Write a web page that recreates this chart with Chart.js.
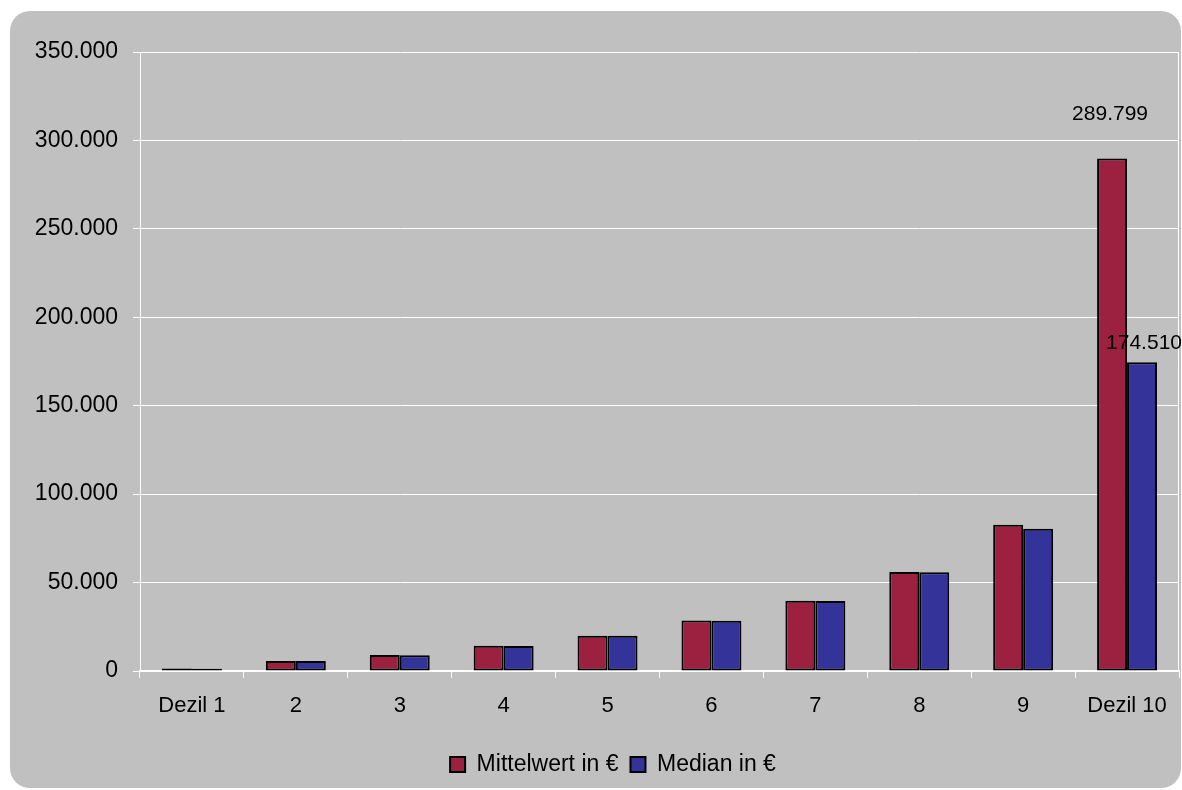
<!DOCTYPE html>
<html>
<head>
<meta charset="utf-8">
<script src="https://cdn.jsdelivr.net/npm/chart.js@4/dist/chart.umd.min.js"></script>
<style>
  html, body { margin: 0; padding: 0; background: #ffffff; }
  #frame {
    position: absolute; left: 10px; top: 11px;
    width: 1171px; height: 777px;
    background: #c0c0c0; border-radius: 20px;
  }
  #c { position: absolute; left: 0; top: 0; }
</style>
</head>
<body>
<div id="frame"></div>
<canvas id="c" width="1182" height="790"></canvas>
<script>
// Income deciles: mean and median per decile (EUR)
const categories = ['Dezil 1', '2', '3', '4', '5', '6', '7', '8', '9', 'Dezil 10'];
const mittelwert = [1400, 5700, 9000, 14300, 20000, 28500, 39700, 56000, 82700, 289799];
const median     = [1300, 5600, 8900, 14200, 19900, 28400, 39600, 55900, 80500, 174510];
const seriesNames = ['Mittelwert in €', 'Median in €'];
const yMax = 350000;
const yStep = 50000;
const labelledIndex = [9];

// German thousands separator
function fmt(v) {
  return String(Math.round(v)).replace(/\B(?=(\d{3})+(?!\d))/g, '.');
}

const FONT = "'Liberation Sans', Arial, sans-serif";
Chart.defaults.font.family = FONT;
Chart.defaults.color = '#000';

// White frame line on the right of the plot area
const plotFrame = {
  id: 'plotFrame',
  beforeDatasetsDraw(chart) {
    const a = chart.chartArea, ctx = chart.ctx;
    ctx.save();
    ctx.strokeStyle = '#ffffff';
    ctx.lineWidth = 1;
    ctx.beginPath();
    ctx.moveTo(Math.round(a.right) - 0.5, a.top);
    ctx.lineTo(Math.round(a.right) - 0.5, a.bottom);
    ctx.stroke();
    ctx.restore();
  }
};

// Legend sits centred under the area right of the axis labels
const legendShift = {
  id: 'legendShift',
  afterLayout(chart, args, opts) {
    if (chart.legend) chart.legend.left += opts.left;
  }
};

// Value labels above the last decile's bars
const valueLabels = {
  id: 'valueLabels',
  afterDatasetsDraw(chart, args, opts) {
    const ctx = chart.ctx;
    ctx.save();
    ctx.font = opts.size + 'px ' + FONT;
    ctx.fillStyle = '#000';
    ctx.textAlign = 'center';
    ctx.textBaseline = 'middle';
    chart.data.datasets.forEach((ds, di) => {
      const meta = chart.getDatasetMeta(di);
      labelledIndex.forEach(i => {
        const bar = meta.data[i];
        ctx.fillText(fmt(ds.data[i]), bar.x + opts.dx[di], bar.y - opts.lift[di]);
      });
    });
    ctx.restore();
  }
};

new Chart(document.getElementById('c'), {
  type: 'bar',
  data: {
    labels: categories,
    datasets: [
      { label: seriesNames[0], data: mittelwert, backgroundColor: '#9c2040', borderColor: '#000', borderWidth: 2, borderSkipped: false },
      { label: seriesNames[1], data: median, backgroundColor: '#333399', borderColor: '#000', borderWidth: 2, borderSkipped: false }
    ]
  },
  options: {
    responsive: false,
    animation: false,
    devicePixelRatio: 1,
    layout: { padding: { left: 0, right: 3, top: 52, bottom: 4 } },
    datasets: { bar: { categoryPercentage: 0.577, barPercentage: 1.0 } },
    scales: {
      x: {
        offset: true,
        grid: { offset: true, drawOnChartArea: false, drawTicks: true, tickLength: 7, color: '#ffffff', lineWidth: 1 },
        border: { color: '#ffffff', width: 2 },
        ticks: { font: { size: 22 }, color: '#000', padding: 15, maxRotation: 0 },
        afterFit(s) { s.height = 70; }
      },
      y: {
        min: 0, max: yMax,
        grid: { color: '#ffffff', lineWidth: 1, drawTicks: true, tickLength: 7 },
        border: { color: '#ffffff', width: 1 },
        ticks: { stepSize: yStep, font: { size: 23 }, color: '#000', padding: 15, callback: v => fmt(v) },
        afterFit(s) { s.width = 140; }
      }
    },
    plugins: {
      legend: {
        position: 'bottom',
        labels: { boxWidth: 15, boxHeight: 15, padding: 12, font: { size: 23 }, color: '#000' }
      },
      legendShift: { left: 47 },
      tooltip: { enabled: false },
      valueLabels: { size: 21, lift: [44, 19], dx: [-2, 2] }
    }
  },
  plugins: [plotFrame, legendShift, valueLabels]
});
</script>
</body>
</html>
